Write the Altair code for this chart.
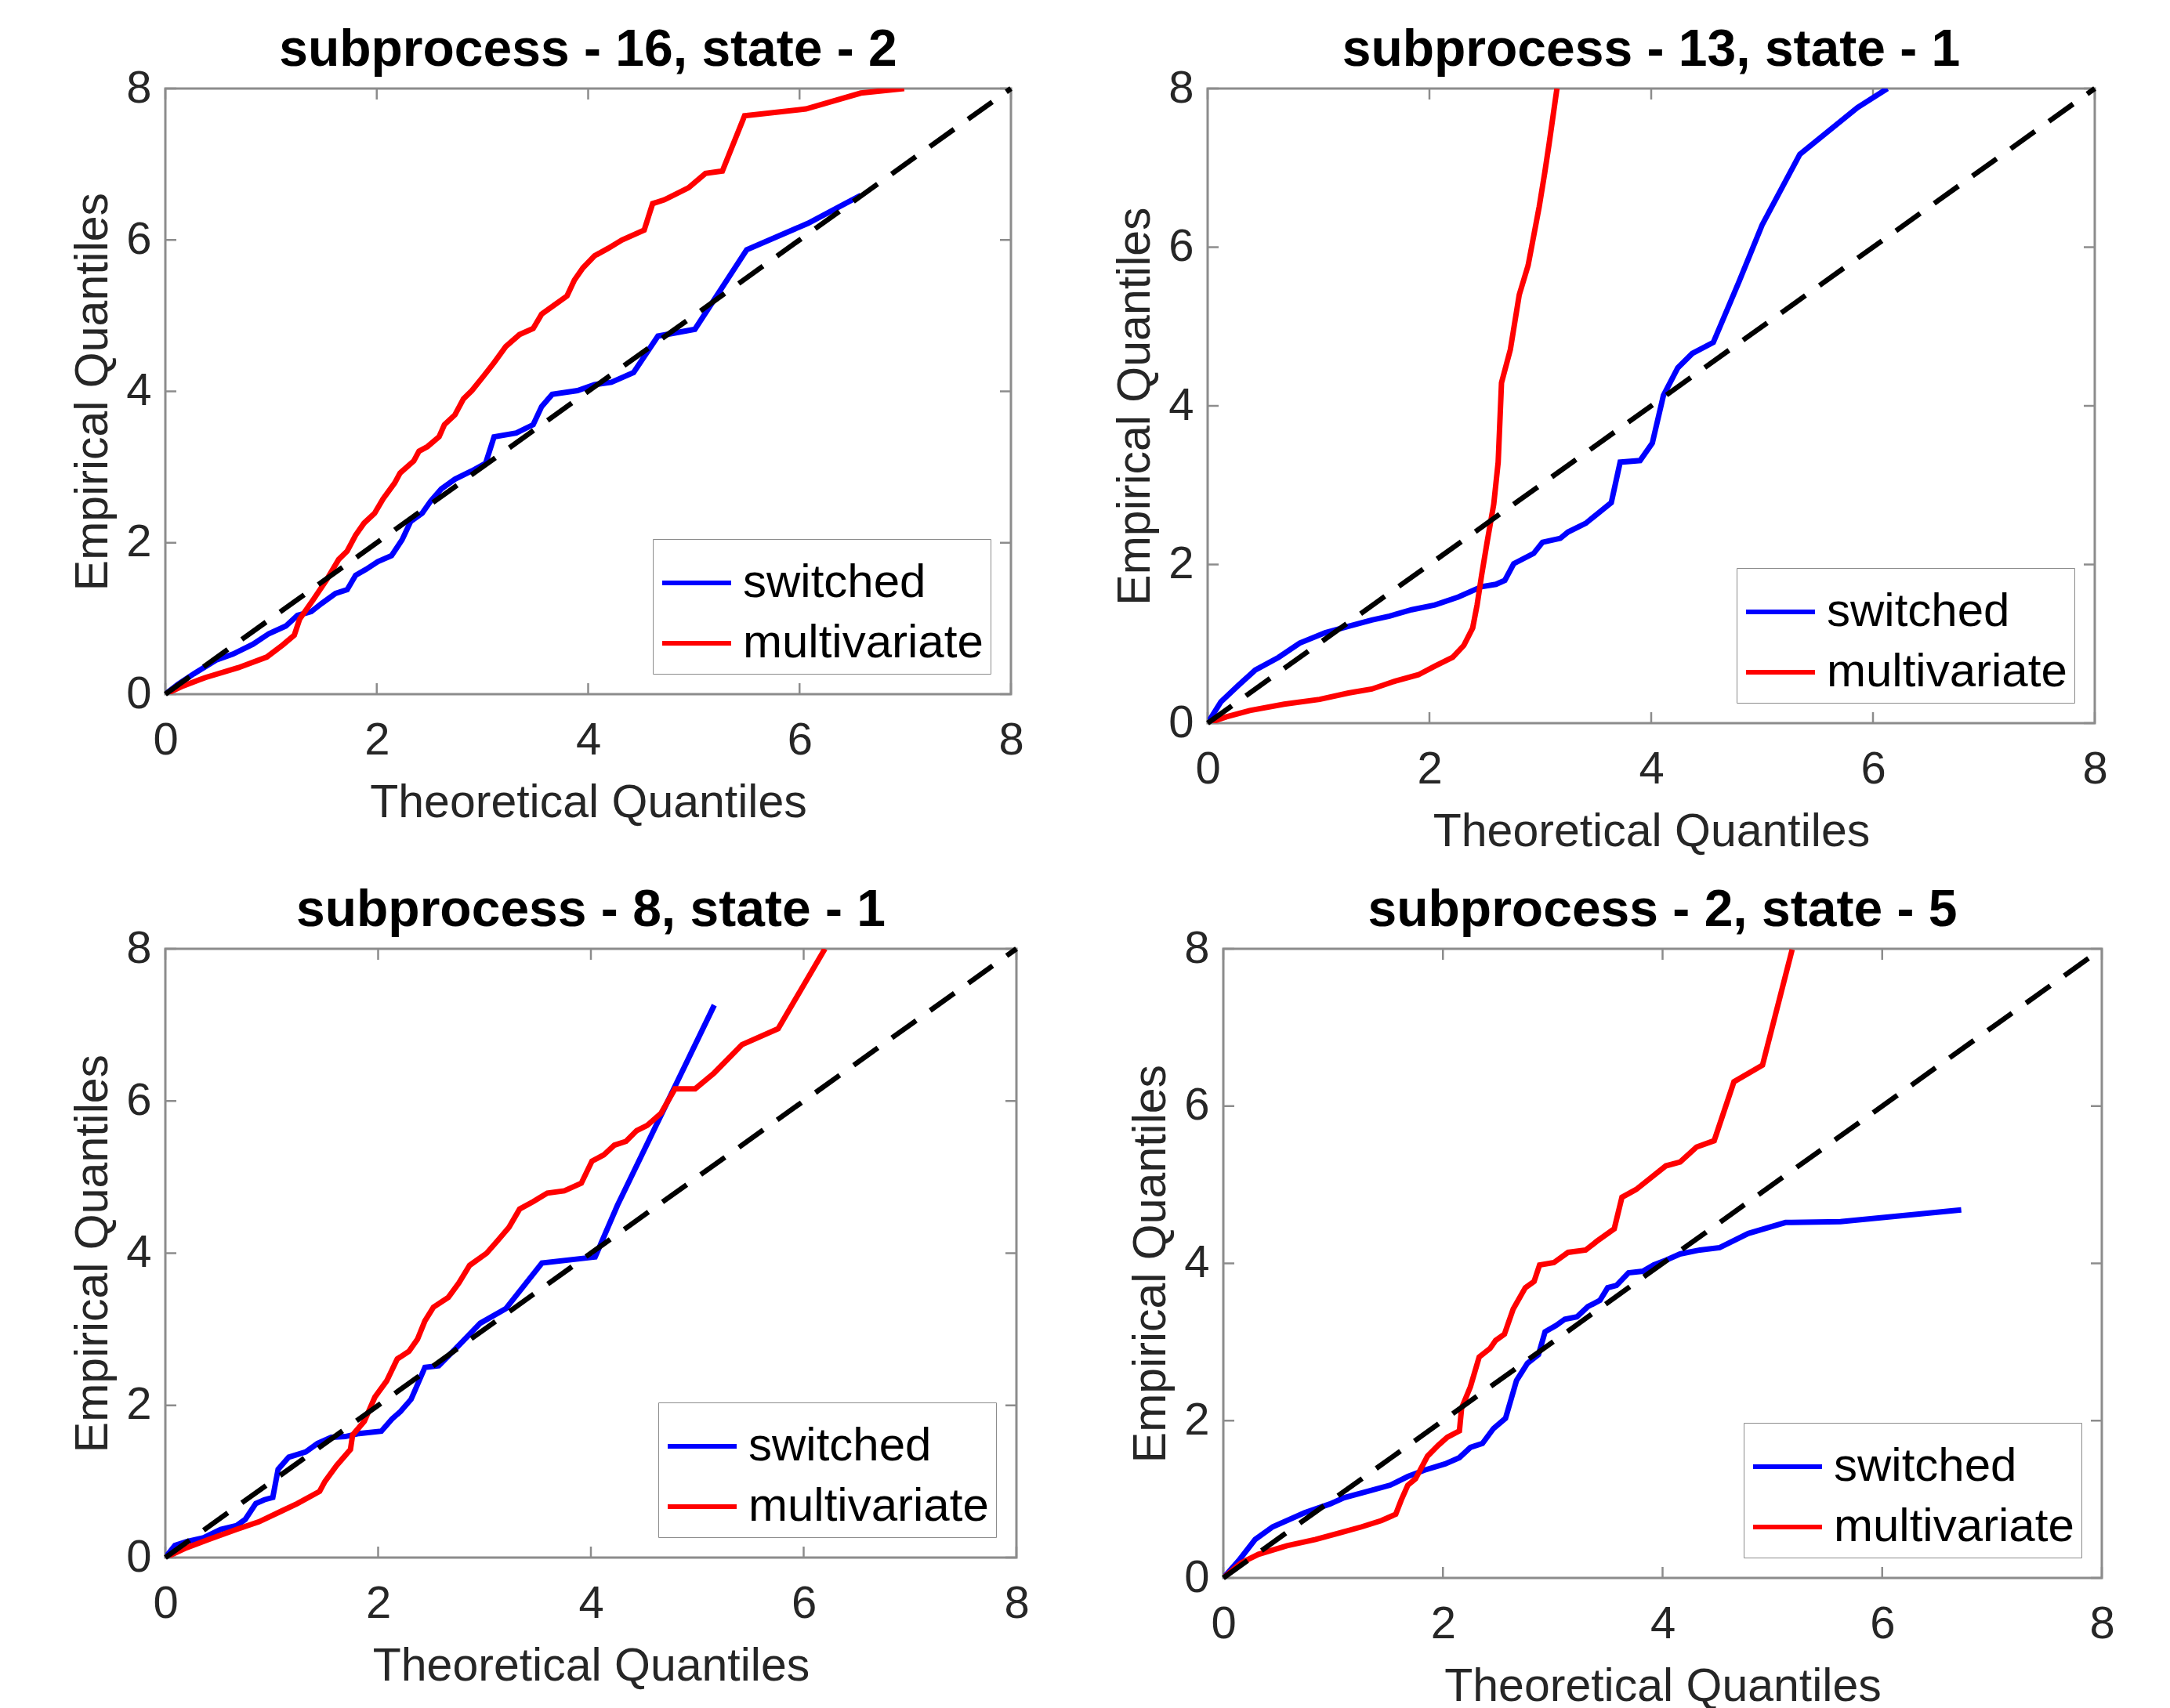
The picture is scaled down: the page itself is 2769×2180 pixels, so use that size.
import altair as alt
import pandas as pd

FONT = "Liberation Sans"

titles = ["subprocess - 16, state - 2", "subprocess - 13, state - 1",
          "subprocess - 8, state - 1", "subprocess - 2, state - 5"]
series_names = ["switched", "multivariate"]
tick_values = [0, 2, 4, 6, 8]
diag_x = [0, 8]
diag_y = [0, 8]

# Panel 1
p1_sw_x = [0, 0.12, 0.27, 0.48, 0.64, 0.83, 0.98, 1.14, 1.25, 1.38, 1.48, 1.61, 1.72, 1.80, 1.90, 2.01, 2.14, 2.24, 2.32, 2.43, 2.51, 2.61, 2.74, 2.90, 3.03, 3.11, 3.32, 3.48, 3.56, 3.66, 3.90, 4.06, 4.22, 4.43, 4.66, 5.01, 5.50, 6.08, 6.58]
p1_sw_y = [0, 0.13, 0.27, 0.45, 0.53, 0.66, 0.80, 0.90, 1.04, 1.09, 1.20, 1.33, 1.38, 1.57, 1.65, 1.75, 1.83, 2.04, 2.28, 2.39, 2.55, 2.71, 2.84, 2.95, 3.05, 3.40, 3.45, 3.56, 3.80, 3.96, 4.01, 4.09, 4.12, 4.25, 4.73, 4.82, 5.87, 6.22, 6.59]
p1_mv_x = [0, 0.17, 0.38, 0.69, 0.96, 1.11, 1.22, 1.27, 1.40, 1.53, 1.64, 1.72, 1.80, 1.88, 1.98, 2.06, 2.17, 2.22, 2.35, 2.40, 2.48, 2.59, 2.64, 2.74, 2.82, 2.90, 3.01, 3.11, 3.22, 3.35, 3.48, 3.56, 3.69, 3.80, 3.87, 3.95, 4.06, 4.19, 4.32, 4.53, 4.61, 4.72, 4.95, 5.11, 5.27, 5.48, 6.06, 6.58, 6.99]
p1_mv_y = [0, 0.11, 0.22, 0.35, 0.49, 0.65, 0.78, 0.99, 1.25, 1.52, 1.78, 1.89, 2.10, 2.26, 2.39, 2.58, 2.79, 2.92, 3.08, 3.21, 3.27, 3.40, 3.56, 3.69, 3.90, 4.01, 4.20, 4.38, 4.59, 4.75, 4.83, 5.02, 5.15, 5.26, 5.47, 5.63, 5.79, 5.89, 6.00, 6.13, 6.48, 6.53, 6.69, 6.88, 6.91, 7.64, 7.73, 7.94, 8.0]

# Panel 2
p2_sw_x = [0, 0.12, 0.28, 0.43, 0.64, 0.83, 1.06, 1.27, 1.48, 1.64, 1.84, 2.05, 2.26, 2.47, 2.60, 2.68, 2.76, 2.94, 3.02, 3.18, 3.25, 3.41, 3.64, 3.72, 3.90, 4.01, 4.11, 4.24, 4.37, 4.56, 4.79, 5.00, 5.34, 5.86, 6.13]
p2_sw_y = [0, 0.27, 0.48, 0.67, 0.83, 1.01, 1.14, 1.22, 1.30, 1.35, 1.43, 1.49, 1.59, 1.72, 1.75, 1.80, 2.01, 2.14, 2.28, 2.33, 2.41, 2.52, 2.78, 3.29, 3.31, 3.53, 4.13, 4.48, 4.66, 4.80, 5.56, 6.28, 7.17, 7.76, 8.0]
p2_mv_x = [0, 0.17, 0.38, 0.69, 1.01, 1.27, 1.48, 1.69, 1.90, 2.05, 2.21, 2.31, 2.39, 2.43, 2.47, 2.52, 2.58, 2.62, 2.65, 2.73, 2.81, 2.89, 2.99, 3.04, 3.08, 3.15]
p2_mv_y = [0, 0.08, 0.16, 0.24, 0.30, 0.38, 0.43, 0.53, 0.61, 0.72, 0.83, 0.98, 1.20, 1.49, 1.86, 2.28, 2.76, 3.29, 4.29, 4.71, 5.40, 5.77, 6.51, 6.94, 7.31, 8.0]

# Panel 3
p3_sw_x = [0, 0.09, 0.20, 0.36, 0.52, 0.67, 0.75, 0.85, 0.93, 1.01, 1.06, 1.16, 1.32, 1.43, 1.56, 1.69, 1.82, 2.03, 2.13, 2.21, 2.31, 2.44, 2.57, 2.76, 2.96, 3.20, 3.54, 4.04, 4.25, 5.16]
p3_sw_y = [0, 0.16, 0.21, 0.26, 0.37, 0.42, 0.50, 0.71, 0.76, 0.79, 1.16, 1.32, 1.39, 1.50, 1.58, 1.59, 1.63, 1.66, 1.82, 1.92, 2.08, 2.50, 2.52, 2.79, 3.08, 3.27, 3.87, 3.95, 4.63, 7.26]
p3_mv_x = [0, 0.20, 0.41, 0.67, 0.88, 1.09, 1.24, 1.45, 1.50, 1.61, 1.69, 1.74, 1.76, 1.87, 1.97, 2.08, 2.18, 2.29, 2.37, 2.44, 2.52, 2.66, 2.76, 2.86, 3.02, 3.12, 3.23, 3.33, 3.46, 3.59, 3.75, 3.91, 4.01, 4.12, 4.22, 4.33, 4.43, 4.53, 4.66, 4.79, 4.98, 5.16, 5.42, 5.76, 6.20]
p3_mv_y = [0, 0.13, 0.24, 0.37, 0.47, 0.61, 0.71, 0.87, 1.00, 1.21, 1.34, 1.42, 1.61, 1.79, 2.11, 2.32, 2.61, 2.71, 2.87, 3.11, 3.29, 3.42, 3.61, 3.84, 4.00, 4.16, 4.34, 4.58, 4.68, 4.79, 4.82, 4.92, 5.21, 5.29, 5.42, 5.47, 5.61, 5.68, 5.84, 6.16, 6.16, 6.37, 6.74, 6.95, 8.0]

# Panel 4
p4_sw_x = [0, 0.14, 0.29, 0.45, 0.74, 0.97, 1.10, 1.31, 1.52, 1.68, 1.83, 2.02, 2.15, 2.25, 2.36, 2.46, 2.57, 2.67, 2.77, 2.87, 2.93, 3.03, 3.11, 3.22, 3.32, 3.43, 3.50, 3.58, 3.69, 3.82, 3.92, 4.03, 4.16, 4.34, 4.52, 4.78, 5.12, 5.62, 6.72]
p4_sw_y = [0, 0.22, 0.49, 0.65, 0.83, 0.94, 1.02, 1.10, 1.18, 1.29, 1.37, 1.45, 1.53, 1.66, 1.71, 1.90, 2.03, 2.51, 2.73, 2.84, 3.13, 3.21, 3.29, 3.32, 3.45, 3.53, 3.69, 3.72, 3.88, 3.90, 3.98, 4.04, 4.12, 4.17, 4.20, 4.38, 4.52, 4.53, 4.68]
p4_mv_x = [0, 0.16, 0.32, 0.58, 0.84, 1.05, 1.26, 1.44, 1.57, 1.62, 1.68, 1.75, 1.86, 1.96, 2.04, 2.15, 2.17, 2.25, 2.33, 2.43, 2.48, 2.56, 2.64, 2.75, 2.83, 2.88, 3.01, 3.14, 3.30, 3.40, 3.56, 3.63, 3.76, 4.03, 4.16, 4.31, 4.47, 4.65, 4.91, 5.18]
p4_mv_y = [0, 0.19, 0.30, 0.41, 0.49, 0.57, 0.65, 0.73, 0.81, 0.99, 1.18, 1.26, 1.55, 1.69, 1.79, 1.87, 2.16, 2.43, 2.81, 2.92, 3.02, 3.10, 3.42, 3.69, 3.77, 3.98, 4.01, 4.14, 4.17, 4.28, 4.44, 4.84, 4.94, 5.24, 5.29, 5.48, 5.56, 6.31, 6.52, 7.99]

BOX = "#8c8c8c"
TXT = "#262626"
TICK = 14


def series_df(sx, sy, mx, my):
    rows = []
    for i, (a, b) in enumerate(zip(sx, sy)):
        rows.append({"x": a, "y": b, "series": "switched", "i": i})
    for i, (a, b) in enumerate(zip(mx, my)):
        rows.append({"x": a, "y": b, "series": "multivariate", "i": i})
    return pd.DataFrame(rows)


def panel(title, sx, sy, mx, my, w, h):
    xs = alt.Scale(domain=[0, 8], nice=False)
    ys = alt.Scale(domain=[0, 8], nice=False)
    ax_x = alt.Axis(values=tick_values, format="d", ticks=False, domain=False, grid=False,
                    labelFontSize=58, labelFont=FONT, labelColor=TXT, labelPadding=30,
                    labelFlush=False, labelOverlap=False,
                    title="Theoretical Quantiles", titleFontSize=59, titleFont=FONT,
                    titleFontWeight="normal", titleColor=TXT, titlePadding=21)
    ax_y = alt.Axis(values=tick_values, format="d", ticks=False, domain=False, grid=False,
                    labelFontSize=58, labelFont=FONT, labelColor=TXT, labelPadding=18,
                    labelFlush=False, labelOverlap=False,
                    title="Empirical Quantiles", titleFontSize=59, titleFont=FONT,
                    titleFontWeight="normal", titleColor=TXT, titlePadding=12)
    X = alt.X("x:Q", scale=xs, axis=ax_x)
    Y = alt.Y("y:Q", scale=ys, axis=ax_y)

    df = series_df(sx, sy, mx, my)
    lines = alt.Chart(df).mark_line(strokeWidth=7, clip=True).encode(
        x=X, y=Y,
        color=alt.Color("series:N",
                        scale=alt.Scale(domain=series_names, range=["#0000ff", "#ff0000"]),
                        sort=series_names,
                        legend=alt.Legend(title=None, orient="bottom-right", offset=26,
                                          padding=9, strokeColor=BOX, fillColor="white",
                                          symbolType="stroke", symbolSize=7744,
                                          symbolStrokeWidth=6, labelFontSize=60,
                                          labelFont=FONT, labelColor="black",
                                          labelOffset=12, rowPadding=-6, cornerRadius=0,
                                          labelLimit=600)),
        order="i:Q",
    )
    diag = alt.Chart(pd.DataFrame({"x": diag_x, "y": diag_y})).mark_line(
        color="black", strokeWidth=6.5, strokeDash=[38, 22]).encode(x=X, y=Y)

    tdf = pd.DataFrame({"x": tick_values, "y": tick_values})
    rule = dict(color=BOX, strokeWidth=2.5)
    tb = alt.Chart(tdf).mark_rule(**rule).encode(x=X, y=alt.value(h), y2=alt.value(h - TICK))
    tt = alt.Chart(tdf).mark_rule(**rule).encode(x=X, y=alt.value(0), y2=alt.value(TICK))
    tl = alt.Chart(tdf).mark_rule(**rule).encode(y=Y, x=alt.value(0), x2=alt.value(TICK))
    tr = alt.Chart(tdf).mark_rule(**rule).encode(y=Y, x=alt.value(w), x2=alt.value(w - TICK))

    return alt.layer(tb, tt, tl, tr, lines, diag).properties(
        width=w, height=h,
        title=alt.TitleParams(title, fontSize=66, font=FONT, fontWeight="bold",
                              color="black", frame="group", anchor="middle", offset=-14),
    )


c1 = panel(titles[0], p1_sw_x, p1_sw_y, p1_mv_x, p1_mv_y, 1079, 773)
c2 = panel(titles[1], p2_sw_x, p2_sw_y, p2_mv_x, p2_mv_y, 1132, 810)
c3 = panel(titles[2], p3_sw_x, p3_sw_y, p3_mv_x, p3_mv_y, 1086, 777)
c4 = panel(titles[3], p4_sw_x, p4_sw_y, p4_mv_x, p4_mv_y, 1121, 803)

row1 = alt.hconcat(c1, c2, spacing=110).resolve_scale(color="independent")
row2 = alt.hconcat(c3, c4, spacing=123).resolve_scale(color="independent")

chart = alt.vconcat(row1, row2, spacing=34).resolve_scale(color="independent").properties(
    padding={"left": 80, "top": 21, "right": 0, "bottom": 24},
    background="white",
).configure_view(stroke=BOX, strokeWidth=3)

chart.save("out.html", embed_options={"renderer": "svg", "actions": False})
